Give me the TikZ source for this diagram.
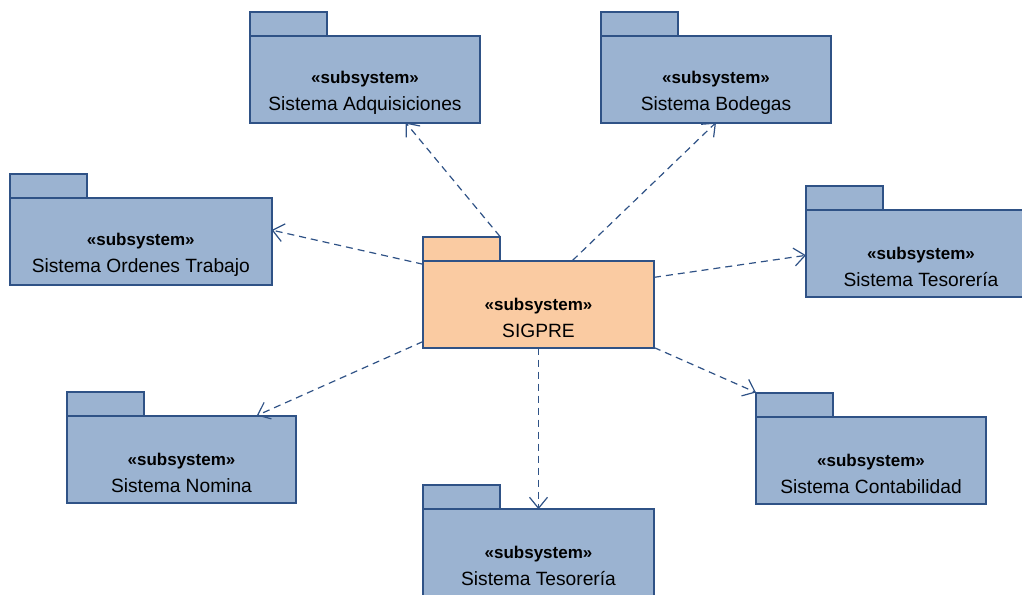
\documentclass[tikz,border=0pt]{standalone}
\usepackage{fontspec}
\setmainfont{Liberation Sans}
\usetikzlibrary{arrows.meta}
\definecolor{pkgblue}{RGB}{155,179,209}
\definecolor{pkgorange}{RGB}{250,203,162}
\definecolor{pkgline}{RGB}{47,82,134}
\newcommand\pkgnode[6]{%
\node [pkgbody, minimum width=#4, fill=#5] (#1) at (#2,#3) {};
\node [pkgtab, fill=#5] (#1-tab) at (#1.north west) {};
\node [pkglabel] (#1-lbl) at ([yshift=-6.75pt]#1.center) {{\fontsize{8.5}{13.5}\selectfont\bfseries «subsystem»}\\#6};
}
\begin{document}
\begin{tikzpicture}[x=0.5pt,y=-0.5pt,
pkgbody/.style={draw=pkgline, line width=1pt, minimum height=43.5pt, inner sep=0pt, outer sep=0pt},
pkgtab/.style={draw=pkgline, line width=1pt, anchor=south west, minimum width=38.5pt, minimum height=12pt, inner sep=0pt, outer sep=0pt},
pkglabel/.style={align=center, inner sep=0pt, font=\fontsize{9.6}{13.5}\selectfont},
dep/.style={draw=pkgline, line width=0.6pt, dash pattern=on 3.5pt off 2.5pt, -{Straight Barb[length=5.5pt,width=9pt]}}]
\useasboundingbox (0,0) rectangle (1022,594);
\clip (0,0) rectangle (1022,594);
\pkgnode{adq}{365}{79}{115pt}{pkgblue}{Sistema Adquisiciones}
\pkgnode{bod}{716}{79}{115pt}{pkgblue}{Sistema Bodegas}
\pkgnode{ord}{140.8}{241.5}{130.8pt}{pkgblue}{Sistema Ordenes Trabajo}
\pkgnode{tes1}{921}{253.3}{115pt}{pkgblue}{Sistema Tesorería}
\pkgnode{sig}{538.5}{304}{115.5pt}{pkgorange}{SIGPRE}
\pkgnode{nom}{181.5}{459}{114.5pt}{pkgblue}{Sistema Nomina}
\pkgnode{tes2}{538.5}{552.7}{115.5pt}{pkgblue}{Sistema Tesorería}
\pkgnode{con}{871}{460}{115pt}{pkgblue}{Sistema Contabilidad}
\draw [dep] (sig-tab.north east) -- (adq.-47.7);
\draw [dep] (sig.52) -- (bod.south);
\draw [dep] (sig.161.3) -- (ord.5);
\draw [dep] (sig.13.6) -- (tes1.181);
\draw [dep] (sig.198.7) -- (nom.30);
\draw [dep] (sig.south) -- (tes2.north);
\draw [dep] (sig.south east) -- (con-tab.north west);
\end{tikzpicture}
\end{document}
